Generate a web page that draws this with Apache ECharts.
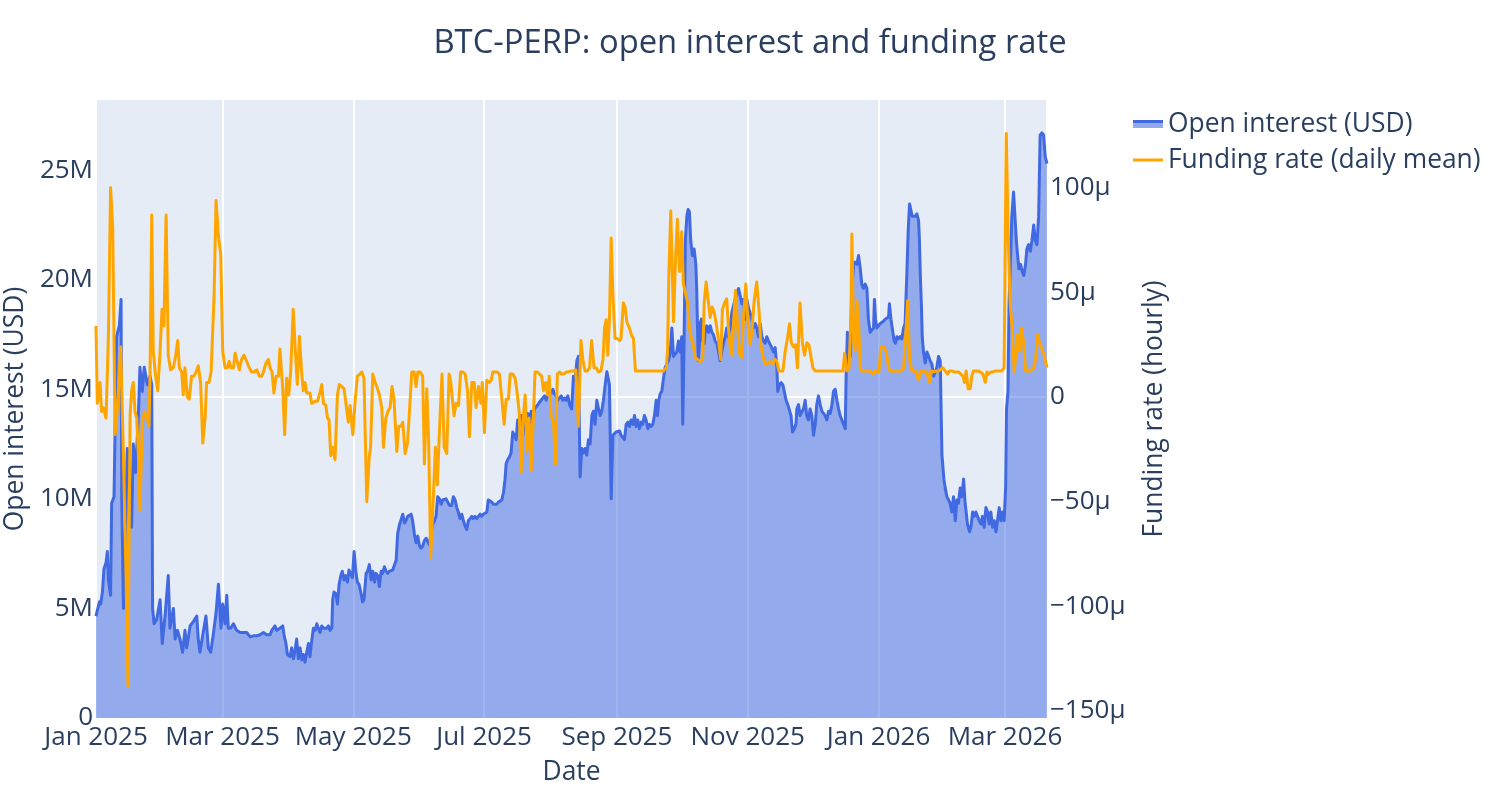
<!DOCTYPE html>
<html>
<head>
<meta charset="utf-8">
<script src="https://cdn.jsdelivr.net/npm/echarts@6/dist/echarts.min.js"></script>
<style>
html,body{margin:0;padding:0;background:#ffffff;}
#chart{width:1500px;height:800px;}
</style>
</head>
<body>
<div id="chart"></div>
<script>
// ---- data (day offset from 2025-01-01, value) ----
const startDateUTC = Date.UTC(2025, 0, 1);
const dayMs = 86400000;

const chartTitle = 'BTC-PERP: open interest and funding rate';
const seriesNames = ['Open interest (USD)', 'Funding rate (daily mean)'];
const axisTitles = { x: 'Date', yLeft: 'Open interest (USD)', yRight: 'Funding rate (hourly)' };
const monthLabels = ['Jan','Feb','Mar','Apr','May','Jun','Jul','Aug','Sep','Oct','Nov','Dec'];

// Open interest, millions of USD
const openInterestM = [
[0,4.65],[0.6,4.9],[1.6,5.3],[2.2,5.2],[3,5.75],[3.7,6.8],[4.7,7.1],[5.3,7.6],[5.8,6.3],[6.8,5.6],
[7.3,9.8],[8.4,10.1],[9.6,17.4],[10.9,17.9],[11.7,19.1],[12,10.1],[12.8,5.0],[14.6,12.3],[16.6,8.7],[17.4,12.5],
[18.5,11.2],[19.8,13.9],[20.5,16.0],[21.6,14.9],[22.5,16.0],[24,15.2],[25.2,15.6],[26,15.2],[26.4,5.0],[27.1,4.3],
[28.3,4.5],[29.9,5.4],[30.9,3.4],[32.2,4.65],[33.7,6.5],[34.5,4.1],[36.1,5.0],[36.9,3.6],[38,4.0],[39.2,3.6],
[40.4,3.0],[41.5,4.0],[42.3,3.2],[43.9,4.2],[45.4,4.4],[47,4.65],[47.7,3.6],[48.5,3.0],[49.8,3.8],[51.3,4.65],
[52.4,3.2],[53.5,3.0],[54.7,3.8],[56,4.8],[57.1,6.1],
[58.3,4.1],[59.1,5.2],[60.2,4.3],[61,5.6],[61.7,4.1],[62.8,4.1],[64.1,4.3],[65.6,4.0],[67.2,3.9],[68.7,3.9],
[70.3,3.9],[71.9,3.7],[73.4,3.75],[75,3.75],[76.5,3.8],[78.1,3.9],[79.6,3.8],[81.2,3.8],[82,4.0],[83.5,4.2],
[84.3,4.0],[85.8,4.1],[87.1,4.2],[87.7,3.8],[88.6,3.4],[89.3,2.9],[90.5,2.8],[91.3,3.2],[92.1,2.7],[92.9,3.1],
[93.6,3.6],[94.4,2.7],[95.2,3.2],[96,2.65],[96.7,2.9],[97.5,2.55],[98.3,3.0],[99.1,3.4],[99.8,2.8],[100.6,3.5],
[101.4,4.1],[102.2,4.0],[103,4.3],[103.7,4.1],[104.5,3.9],[105.3,4.2],[106.1,4.1],[106.8,4.1],[107.6,4.1],[108.4,4.2],
[109.2,4.0],[110,4.1],[110.4,5.4],[111,5.75],[112,5.66],[112.6,5.2],[113.4,6.1],[114.2,6.5],[114.9,6.7],[115.7,6.3],
[116.5,6.5],[117.3,6.2],[118,6.75],[118.8,6.6],[119.6,6.4],[120.4,7.6],[121.2,6.7],[121.9,6.2],[122.7,6.1],[123.5,5.75],
[124.3,5.3],[125,5.4],[126,6.6],[126.7,6.7],[127.5,7.0],[128.3,6.3],[129.1,6.7],[129.9,6.2],[130.6,6.6],[131.4,6.5],
[132.2,6.0],[133,6.7],[133.7,6.6],[134.5,6.9],[135.3,6.7],[136.1,6.6],[136.9,6.7],[137.6,6.7],[138.4,6.75],[139.2,6.8],
[140,7.2],[140.7,8.4],[141.5,8.8],[142.3,8.85],[143.1,9.3],[143.9,8.9],[144.6,9.0],[145.4,9.2],[146.2,9.2],[147,9.3],
[147.7,9.0],[148.5,8.4],[149.3,8.0],[150.1,8.3],[150.9,7.85],[151.6,7.75],[152.4,7.85],[153.2,8.1],[154,8.2],[154.7,8.2],
[155.5,7.9],[156.3,8.5],[157.1,8.85],[157.9,9.0],[158.6,9.2],[159.4,10.1],[160.2,10.0],[161,9.75],[161.7,9.95],[162.5,9.95],
[163.3,10.0],[164.1,9.85],[164.9,9.7],
[165.9,9.7],[166.7,10.1],[167.5,9.95],[168.3,9.6],[169,9.4],[169.8,9.1],[170.6,9.3],[171.4,9.0],[172.2,8.75],[172.9,8.6],
[173.7,9.0],[174.5,9.1],[175.3,9.2],[176,9.1],[176.8,9.2],[177.6,9.1],[178.4,9.2],[179.2,9.3],[179.9,9.2],[180.7,9.3],
[181.5,9.3],[182.3,9.4],[183,9.95],[183.8,10.0],[184.6,9.85],[185.4,9.75],[186.2,9.7],[186.9,9.75],[187.7,9.85],[188.5,9.85],
[189.3,9.95],[190.1,10.3],[190.8,10.9],[191.3,11.6],[192.1,11.8],[192.8,11.9],[193.6,12.1],[194.4,13.05],[195.2,13.05],[196,12.7],
[196.7,13.6],[197.5,13.2],[198.3,13.8],[199.1,12.9],[199.8,13.4],[200.6,13.8],[201.4,13.9],[202.2,13.4],[203,14.0],[203.7,13.8],
[204.5,14.1],[205.3,14.2],[206.1,14.3],[206.8,14.4],[207.6,14.5],[208.4,14.5],[209.2,14.7],[210,14.5],[210.7,14.8],[211.5,14.9],
[212.3,14.8],[213.1,15.0],[213.8,14.8],[214.6,14.7],[215.4,14.5],[216.2,14.6],[217,14.7],[217.7,14.5],[218.5,14.6],[219.3,14.5],
[220.1,14.7],[220.9,14.3],
[221.9,14.1],[222.7,15.6],[223.5,15.4],[224.3,16.3],[225,16.5],[225.8,11.0],[226.6,12.3],[227.4,12.1],[228.1,12.3],[228.9,12.0],
[229.7,12.7],[230.5,12.5],[231.3,13.8],[232,14.0],[232.8,13.4],[233.6,14.5],[234.4,14.1],[235.2,13.8],[235.9,14.0],[236.7,14.5],
[237.5,15.2],[238.3,15.8],[239,15.8],[239.5,15.2],[240.3,10.0],[241.1,12.9],[241.8,12.95],[242.6,13.05],[243.4,13.05],[244.2,13.1],
[244.9,12.9],[245.7,12.95],[246.5,12.7],[247.3,13.4],[248.1,13.5],[248.8,13.3],[249.6,13.6],[250.4,13.4],[251.2,13.8],[251.9,13.3],
[252.7,13.6],[253.5,13.2],[254.3,13.5],[255,13.4],[255.8,13.8],[256.6,13.6],[257.4,13.2],[258.2,13.4],[258.9,13.3],[259.7,13.4],
[260.5,13.8],[261.3,14.5],[261.9,13.8],[262.5,14.5],[263.2,14.8],[263.9,14.9],[264.7,15.5],[265.5,16.0],[266.2,16.15],[267,16.3],
[267.8,16.6],[268.6,17.8],[269.4,16.5],[270.1,16.6],[270.9,16.7],[271.7,17.2],[272.5,16.7],[273.2,17.4],[273.7,13.4],[274.3,17.1],
[274.9,21.8],[275.6,22.9],[276.2,23.2],[276.8,23.1],[277.4,21.8],[278.2,21.1],[279,21.4],[279.8,20.7],[280.2,19.6],[280.9,16.3],
[281.5,17.1],
[281.8,18.0],[282.4,18.2],[283,17.2],[283.7,17.1],[284.3,17.8],[284.9,17.9],[285.7,17.6],[286.5,17.9],[287.3,17.6],[288,17.5],
[288.8,17.2],[289.6,17.1],[290.4,16.7],[291.1,16.3],[291.9,16.7],[292.7,17.1],[293.5,17.4],[294.2,17.8],[295,17.4],[295.8,17.8],
[296.6,18.5],[297.4,18.5],[298.1,19.1],[298.9,19.4],[299.7,19.6],[300.5,19.25],[301.2,18.9],[302,19.1],[302.8,18.2],[303.6,19.1],
[304.4,18.7],[305.1,18.5],[305.9,18.2],[306.7,17.8],[307.5,18.0],[308.2,17.8],[309,17.4],[309.8,18.0],[310.6,17.4],[311.4,17.2],
[312.1,17.1],[312.9,17.4],[313.7,17.2],[314.5,17.2],[315.2,16.9],[316,16.7],[316.8,16.9],[317.6,16.0],[318,14.9],[318.8,15.2],
[319.6,15.3],[320.4,15.2],[321.1,15.15],[321.9,14.5],[322.7,14.3],[323.5,14.3],[324.2,13.8],[324.9,13.05],[325.7,13.2],[326.5,13.4],
[326.9,14.1],[327.7,14.3],[328.4,13.8],[329.2,13.96],[330,14.1],[330.8,14.5],[331.5,13.8],[332.3,13.6],[333.1,14.1],
[333.9,13.8],[334.7,12.9],[335.5,13.4],[336.2,14.3],[337,14.7],[337.8,14.3],[338.6,14.0],[339.4,14.0],[340.1,13.8],[340.9,13.6],
[341.7,14.0],[342.5,13.9],[343.3,14.3],[344,14.9],[344.8,15.0],[345.6,14.5],[346.4,14.1],[347.1,13.8],[347.9,13.6],[348.7,13.4],
[349.5,13.2],[349.9,15.6],[350.5,17.6],[351.3,17.6],[351.8,16.5],[352.6,19.6],[353.4,20.7],[354.1,20.8],[354.9,20.7],[355.7,21.1],
[356.5,20.5],[357.2,19.8],[358,19.6],[358.8,19.8],[359.6,19.6],[360.3,18.2],[361.1,17.6],[361.9,17.6],[362.7,17.8],[363.1,19.1],
[363.6,18.2],[364.2,17.8],[365,17.9],[365.8,18.0],[366.5,18.0],[367.3,18.1],[368.1,18.2],[368.9,18.2],[369.7,18.3],[370.1,18.9],
[370.8,18.2],[371.7,17.6],[372.3,17.2],[372.9,17.1],[373.6,17.4],[374.3,17.3],[375.1,17.4],[375.9,17.3],[376.7,17.8],[377.4,18.0],
[378.2,20.2],[378.9,22.35],[379.5,23.45],[380.1,23.4],[380.7,22.9],[381.3,22.9],[382.1,22.9],[382.9,23.0],[383.7,22.7],[384.1,21.8],
[384.5,20.2],[385,18.9],[385.4,17.4],[386,16.7],[386.8,16.2],[387.6,16.7],[388.4,16.5],[389.1,16.3],[389.9,16.15],[390.7,15.6],
[391.5,15.8],[392.2,16.0],[393,16.5],[393.8,16.3],
[394.6,12.0],[395.5,10.9],[396.1,10.5],[396.9,10.1],[397.7,10.1],[398.4,9.8],[399.2,9.4],[400,10.1],[400.8,9.0],[401.6,9.95],
[402.3,9.8],[403.1,10.5],[403.9,10.1],[404.7,10.9],[405.4,9.8],[405.9,9.4],[406.5,8.85],[407.5,8.5],[408.1,8.7],[408.9,9.4],
[409.6,9.2],[410.4,9.4],[411.2,9.2],[412,9.0],[412.8,8.85],[413.5,9.2],[414.3,8.7],[415.1,9.6],[415.9,9.4],[416.6,8.85],
[417.4,9.4],[418.2,8.7],[419,9.0],[419.8,8.5],[420.5,9.0],[421.3,9.6],[422.1,9.0],[422.9,9.4],[423.6,9.0],[424.3,10.5],
[424.7,14.1],[425.4,14.9],[425.9,18.9],[426.5,20.7],[427.2,22.9],[428,24.0],[428.6,24.0],[429.3,21.8],[429.9,21.1],[430.5,20.5],
[431.3,20.7],[432.1,20.35],[432.8,20.2],[433.6,20.7],[434.2,21.4],[435,21.6],[435.8,21.3],[436.6,21.8],[437.4,22.5],[438.1,21.8],
[438.9,21.6],[439.7,22.9],[440.4,26.6],[441.2,26.7],[442,26.6],[442.8,25.6],[443.6,25.3]
];

// Funding rate, hourly, in millionths (μ)
const fundingRateMicro = [
[0,34],[0.6,-3],[1.9,7],[2.6,-7],[3.4,-5],[4.7,-10],[5.8,30],[6.8,100],[7.8,81],[8.9,-18],
[10,-5],[11.5,24],[12.8,-28],[14,-85],[14.9,-138],[15.9,-9],[16.6,3],[17.4,7],[18.2,-7],[19,-10],
[19.8,-28],[20.5,-54],[21.6,-12],[22.6,-7],[23.6,-9],[24.7,-14],[25.2,10],[26,87],[26.7,22],[27.8,10],
[28.8,3],[29.9,22],[30.8,42],[31.7,34],[32.7,87],[33.7,20],[34.8,13],[36.1,14],[37.2,20],[38.1,27],
[38.9,14],[40,12],[40.7,1],[41.5,14],[42.6,0],[43.5,-1],[44.6,10],[45.7,10],[46.7,12],[47.7,15],
[48.8,7],[49.8,-22],[50.9,-10],[51.6,7],[52.7,7],[53.7,12],[55.1,49],[56,94],[57.1,77],
[58.2,68],[59.1,22],[60.2,14],[61.3,14],[62.1,17],[63,14],[64.1,14],[64.9,21],[65.6,18],[66.9,13],
[67.9,18],[69,20],[70.3,17],[71.5,14],[72.6,12],[73.7,12],[75,13],[76.2,10],[77.3,10],[78.1,12],
[79.2,16],[80.4,18],[81.2,14],[82.1,12],[83,2],[84,10],[85.1,10],[85.8,23],[87.1,4],[88,-18],
[88.9,9],[89.9,1],[90.8,12],[92,42],[93,22],[93.9,6],[94.9,29],[95.9,12],[96.7,3],[97.5,7],
[98.3,2],[99.8,2],[100.6,-3],[102.2,-2],[103.3,-2],[104.2,1],[105.3,6],[106.1,-3],[107.2,-4],[108,-10],
[108.7,-11],[109.5,-28],[110.4,-24],[111.5,-30],
[112.6,1],[113.5,6],[114.6,5],[115.7,4],[116.6,4],[117.7,-12],[118.5,-4],[119.8,-18],[120.8,-3],[121.9,10],
[123.2,11],[124,12],[125,9],[126.3,-50],[127.5,-28],[128.1,-24],[129.1,11],[130.2,7],[131,5],[132.2,1],
[133.3,-5],[134.1,-24],[135.2,-10],[136.1,-7],[137.2,-5],[138.1,5],[139,-1],[140.3,-26],[141.2,-14],[142.3,-14],
[143.1,-12],[144.2,-27],[145.3,-22],[146.2,-7],[147.3,12],[148.4,12],[149.3,5],[150.1,12],[151.2,12],[152.4,10],
[153.2,-32],[154.3,4],[155.2,-22],[156.1,-77],[157.4,-47],[158.3,-24],[159.2,-42],[160.5,-9],[161.4,11],[162.4,-24],
[163.6,-27],[164.7,11],[165.5,7],
[167,-9],[168,-3],[169.1,-4],[170.1,12],[171.1,12],[172.2,11],[173.3,3],[174.2,-19],[175.3,7],[176.4,7],
[177.3,-5],[178.4,5],[179.5,-3],[180.2,7],[181.2,-17],[182.3,8],[183.4,7],[184.3,8],[185.1,12],[186.2,12],
[187.2,12],[188.2,11],[189.3,-1],[190.4,-13],[191.3,-1],[192.4,-1],[193.2,11],[194.4,11],[195.5,9],[196.2,4],
[197.4,-7],[198.3,-36],[199.1,-12],[200.2,1],[201,-26],[202,-10],[203,-35],[203.7,-18],[204.8,12],[205.9,12],
[206.9,11],[207.9,10],[208.7,3],[209.8,7],[210.6,1],[211.4,10],[212.3,-9],[213.4,-12],[214.3,-32],[215.2,11],
[216.2,12],[217.3,11],[218.4,11],[219.3,12],[220.4,12],[221.5,12.5],[222.7,12.5],[223.8,13],[225,-14],
[226.2,27],[227.1,18],[228.1,12.5],[229.2,12.5],[230.2,14],[231.2,27],[232.3,14],[233.3,14],[234.4,12],[235.5,12.5],
[236.5,18],[237.2,33],[238,37],[238.7,20],[239.5,37],[240.3,76],[241.1,49],[242.1,28],[243.2,28],[244.2,27],
[244.9,28],[246,45],[246.8,43],[247.6,36],[248.8,33],[250,29],[250.7,28],[251.6,12.5],[252.6,12.5],[253.7,12.5],
[254.8,12.5],[255.9,12.5],[257,12.5],[258.1,12.5],[259.2,12.5],[260.3,12.5],[261.4,12.5],[262.5,12.5],[263.6,12.5],[264.7,12.5],
[265.4,12.5],[266,14],[266.6,22],[267.2,58],[268.1,89],[269.4,36],[270.4,68],[271.2,85],[272.2,60],[273.2,79],
[274,54],[275.1,49],[276,45],[276.8,33],[277.9,27],
[278.4,26],[279.5,19],[280.6,18],[281.8,17],[283,18],[283.7,45],[284.6,55],[285.7,45],[286.5,38],[287.4,43],
[288.3,41],[289.3,35],[290.4,27],[291.4,18],[292.2,42],[293.2,45],[294.2,47],[295,33],[295.8,24],[296.7,20],
[297.4,36],[298.3,51],[299.2,35],[300.1,21],[301.2,19],[302,37],[303.1,54],[304,37],[305.1,25],[306,32],
[307,46],[308.2,55],[309.3,41],[310.1,25],[311,20],[312.1,16],[313.2,16],[314.4,17],[315.5,16],[316.8,18],
[317.6,17],[318.5,12.5],[319.4,12.5],[320.4,12.5],[321.5,22],[322.5,28],[323.5,35],[324.3,26],[325.3,24],[326.3,25],
[327.2,14],[328.4,45],[329.5,26],[330.5,20],[331.6,26],[332.5,25],[333.4,20],[334.4,14],[335.4,12.5],[336.5,12.5],
[338,12.5],[339,12.5],[340,12.5],[341,12.5],[342,12.5],[343,12.5],[344,12.5],[345,12.5],[346,12.5],[347,12.5],
[348.4,12.5],[349.2,21],[350.2,12.5],[351.3,14],[352.1,37],[352.6,78],[353.4,26],[354.1,22],[354.9,46],[355.7,37],
[356.5,14],[357.2,12.5],[358,12.5],[359,12.5],[360,12.5],[361.1,12.5],[362.4,11],[363.5,12.5],[364.2,12],[365.2,12],
[366.1,24],[367.3,24],[368.6,22],[369.7,14],[370.5,12.5],[371.5,12.5],[372.5,12.5],[373.6,12.5],[374.5,12.5],[375.5,12.5],
[376.7,14],[377.6,28],[378.6,46],[379.5,18],[380.6,12.5],[381.6,12.5],[382.6,12],[383.7,8],[384.4,12],[385.4,12.5],
[386.5,12],[387.6,12],[388.7,7],[389.7,12.5],[390.8,12],[392,12.5],[393.1,12.5],
[393.8,12.5],[395,14],[396.1,12.5],[397.2,11],[398.1,12.5],[399.2,12.5],[400.3,12],[401.2,12.5],[402.3,12],[403.4,11],
[404.4,10],[405.1,7],[405.9,12.5],[406.8,4],[407.8,4],[408.5,10],[409.3,12.5],[410.6,12.5],[411.7,12.5],[412.4,12],
[413.7,11],[414.8,7],[415.6,12],[416.5,11],[417.4,12],[418.4,12],[419.5,12.5],[420.2,12.5],[421.5,12.5],[422.5,12.5],
[423.6,14],[424.6,126],[425.5,77],[426.4,45],[427.4,32],[428.3,12],[429.2,12],[429.9,30],[430.8,22],[431.7,33],
[432.7,26],[433.6,12.5],[434.5,12.5],[435.8,12.5],[437.3,14],[438.3,18],[439.2,30],[440.1,26],[441.2,23],[442.3,20],
[443.6,14]
];

// axis extents
const oiAxisRange = [0, 28.2];
const frAxisRange = [-153.4, 142];

// ---- build ----
const toTime = p => [startDateUTC + p[0] * dayMs, p[1]];
const oiData = openInterestM.map(toTime);
const frData = fundingRateMicro.map(toTime);

const textColor = '#2a3f5f';
const fontFamily = '"Open Sans", sans-serif';
const clear = 'rgba(0,0,0,0)';
const tickFont = 26;
const smallTitleFont = 26.4;

const chart = echarts.init(document.getElementById('chart'), null, { renderer: 'canvas' });
chart.setOption({
  animation: false,
  useUTC: true,
  backgroundColor: '#ffffff',
  textStyle: { fontFamily: fontFamily, color: textColor },
  title: {
    text: chartTitle,
    left: 'center',
    top: 27,
    padding: 0,
    textStyle: { fontFamily: fontFamily, fontSize: 32.8, fontWeight: 'normal', color: textColor }
  },
  legend: {
    orient: 'vertical',
    left: 1133,
    top: 111,
    padding: 0,
    itemWidth: 30,
    itemHeight: 12,
    itemGap: 10,
    selectedMode: false,
    textStyle: { fontFamily: fontFamily, fontSize: smallTitleFont, color: textColor },
    data: [
      {
        name: seriesNames[0],
        icon: 'path://M0,0h30v8h-30z',
        itemStyle: {
          color: {
            type: 'linear', x: 0, y: 0, x2: 0, y2: 1,
            colorStops: [
              { offset: 0, color: '#4169E1' }, { offset: 0.38, color: '#4169E1' },
              { offset: 0.38, color: '#93AAEB' }, { offset: 1, color: '#93AAEB' }
            ]
          },
          borderWidth: 0
        }
      },
      {
        name: seriesNames[1],
        icon: 'path://M0,0h30v3h-30z',
        itemStyle: { color: '#FFA500', borderWidth: 0 }
      }
    ]
  },
  grid: {
    left: 96, top: 100, width: 951, height: 618,
    show: true, backgroundColor: '#E5ECF6', borderWidth: 0,
    containLabel: false, outerBoundsMode: 'none'
  },
  xAxis: {
    type: 'time',
    min: startDateUTC,
    max: 'dataMax',
    minInterval: 61 * dayMs,
    maxInterval: 61 * dayMs,
    axisLine: { show: false },
    axisTick: { show: false },
    splitLine: { show: true, lineStyle: { color: '#ffffff', width: 2 } },
    axisLabel: {
      fontFamily: fontFamily, fontSize: tickFont, color: textColor, margin: 7,
      showMaxLabel: false, hideOverlap: false,
      formatter: function (v) {
        const d = new Date(v);
        return monthLabels[d.getUTCMonth()] + ' ' + d.getUTCFullYear();
      }
    },
    name: axisTitles.x,
    nameLocation: 'middle',
    nameGap: 41,
    nameTextStyle: { fontFamily: fontFamily, fontSize: smallTitleFont, color: textColor }
  },
  yAxis: [
    {
      type: 'value',
      position: 'left',
      min: oiAxisRange[0],
      max: oiAxisRange[1],
      axisLine: { show: false },
      axisTick: { show: false },
      splitLine: { show: false },
      axisLabel: {
        fontFamily: fontFamily, fontSize: tickFont, color: textColor, margin: 3,
        showMaxLabel: false,
        formatter: v => (v === 0 ? '0' : v + 'M')
      },
      name: axisTitles.yLeft,
      nameLocation: 'middle',
      nameRotate: 90,
      nameGap: 62,
      nameTextStyle: { fontFamily: fontFamily, fontSize: smallTitleFont, color: textColor }
    },
    {
      type: 'value',
      position: 'right',
      min: frAxisRange[0],
      max: frAxisRange[1],
      axisLine: { show: false },
      axisTick: { show: false },
      splitLine: {
        show: true,
        lineStyle: { width: 2, color: [clear, clear, clear, clear, '#ffffff', clear, clear, clear] }
      },
      axisLabel: {
        fontFamily: fontFamily, fontSize: tickFont, color: textColor, margin: 3,
        showMinLabel: false, showMaxLabel: false,
        formatter: v => (v === 0 ? '0' : (v < 0 ? '\u2212' + Math.abs(v) : v) + '\u03bc')
      },
      name: axisTitles.yRight,
      nameLocation: 'middle',
      nameRotate: 90,
      nameGap: 94,
      nameTextStyle: { fontFamily: fontFamily, fontSize: smallTitleFont, color: textColor }
    }
  ],
  series: [
    {
      name: seriesNames[0],
      type: 'line',
      xAxisIndex: 0,
      yAxisIndex: 0,
      data: oiData,
      symbol: 'none',
      showSymbol: false,
      silent: true,
      lineStyle: { color: '#4169E1', width: 3, join: 'round' },
      itemStyle: { color: '#4169E1' },
      areaStyle: { color: 'rgba(65,105,225,0.5)', opacity: 1 },
      z: 2
    },
    {
      name: seriesNames[1],
      type: 'line',
      xAxisIndex: 0,
      yAxisIndex: 1,
      data: frData,
      symbol: 'none',
      showSymbol: false,
      silent: true,
      lineStyle: { color: '#FFA500', width: 3, join: 'round' },
      itemStyle: { color: '#FFA500' },
      z: 3
    }
  ]
});
</script>
</body>
</html>
